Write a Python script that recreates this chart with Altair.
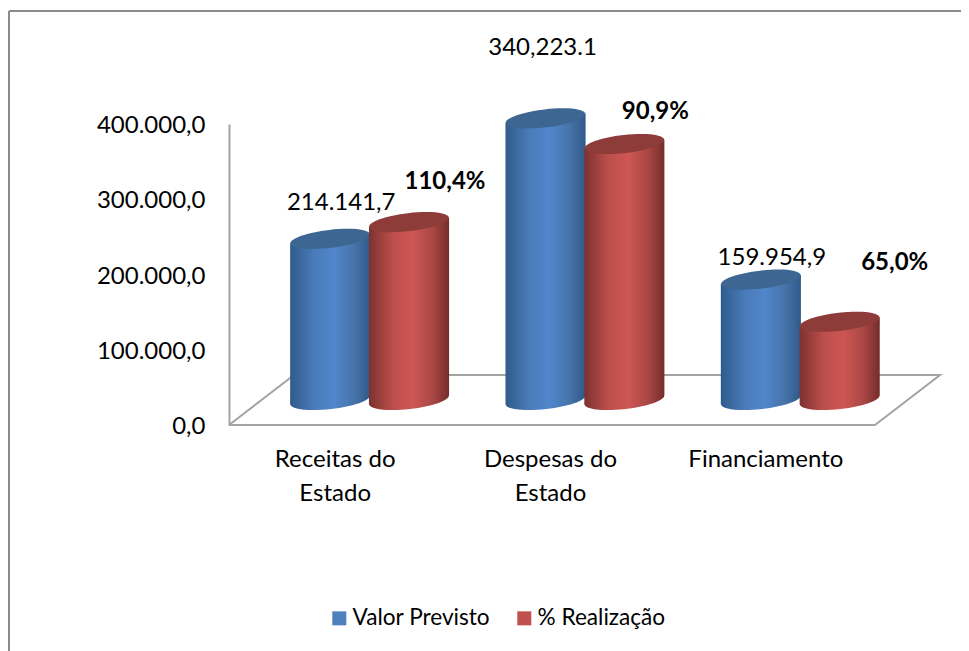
import altair as alt
import pandas as pd

CATEGORIES = ["Receitas do\nEstado", "Despesas do\nEstado", "Financiamento"]
SERIES = ["Valor Previsto", "% Realização"]
VALOR_PREVISTO = [214141.7, 374283.0, 159954.9]
REALIZACAO = [236412.0, 340223.1, 103971.0]
LABELS_PREVISTO = ["214.141,7", "340,223.1", "159.954,9"]
LABELS_REALIZACAO = ["110,4%", "90,9%", "65,0%"]
Y_TICKS = [0, 100000, 200000, 300000, 400000]
FONT = "Lato"
FS = 24

# pseudo-3D geometry, in axis units
BASE = 33222        # depth of the bars' base above the front of the floor
TILT = 6000         # rise of the ellipse across a cylinder
HALF = 0.186        # half width of a cylinder
SHIFT = {SERIES[0]: 0.47, SERIES[1]: 0.836}
FLOOR_X = [0, 3, 3.302, 0.302, 0]
FLOOR_Y = [0, 0, 66444, 66444, 0]

W, H = 646, 301
SZ = (2 * HALF * W / 3) ** 2


def grad(stops):
    return {"gradient": "linear", "x1": 0, "x2": 1, "y1": 0, "y2": 0,
            "stops": [{"offset": o, "color": c} for o, c in stops]}


GRADS = {
    SERIES[0]: grad([(0, "#2f5a8b"), (0.3, "#4a7cba"), (0.55, "#5086cb"),
                     (0.8, "#4674a9"), (1, "#30598a")]),
    SERIES[1]: grad([(0, "#7b3230"), (0.3, "#bd4f4c"), (0.55, "#cd5653"),
                     (0.8, "#a94745"), (1, "#742c2a")]),
}
TOPS = {SERIES[0]: "#3d6693", SERIES[1]: "#8e3c3a"}
ELLIPSE = ("M-0.9936,0.113 A1,0.225 -6.5 1,1 0.9936,-0.113 "
           "A1,0.225 -6.5 1,1 -0.9936,0.113 Z")

rows, centres = [], []
for s, vals in zip(SERIES, [VALOR_PREVISTO, REALIZACAO]):
    for i, v in enumerate(vals):
        c = i + SHIFT[s]
        top = BASE + v
        centres.append({"series": s, "cyl": f"{s}{i}", "x": c, "top": top, "base": BASE})
        rows.append({"series": s, "cyl": f"{s}{i}", "x": c - HALF, "top": top - TILT, "bot": BASE - TILT})
        rows.append({"series": s, "cyl": f"{s}{i}", "x": c + HALF, "top": top + TILT, "bot": BASE + TILT})
bodies = pd.DataFrame(rows)
centre = pd.DataFrame(centres)
floor = pd.DataFrame({"x": FLOOR_X, "y": FLOOR_Y, "o": range(len(FLOOR_X))})

x_expr = ("datum.value<1?" + repr(CATEGORIES[0].split("\n")) +
          ":datum.value<2?" + repr(CATEGORIES[1].split("\n")) +
          ":" + repr(CATEGORIES[2]))
y_expr = ("replace(replace(replace(format(datum.value,',.1f'),',','#'),'.',','),'#','.')")

x_scale = alt.Scale(domain=[0, 3], nice=False, zero=False)
y_scale = alt.Scale(domain=[0, 400000], nice=False)
x_axis = alt.Axis(values=[0.5, 1.5, 2.5], labelExpr=x_expr, domain=False, ticks=False,
                  grid=False, labelFont=FONT, labelFontSize=FS, labelColor="#000000",
                  labelLineHeight=34, labelPadding=22, labelAngle=0, labelOffset=-2,
                  labelOverlap=False, labelBound=False, labelFlush=False)
y_axis = alt.Axis(values=Y_TICKS, labelExpr=y_expr, ticks=False, grid=False,
                  domainColor="#a3a3a3", domainWidth=2, labelFont=FONT, labelOffset=1.5,
                  labelFontSize=FS, labelColor="#000000", labelPadding=24)
X = alt.X("x:Q", scale=x_scale, title=None, axis=x_axis)


def Y(field):
    return alt.Y(field, scale=y_scale, title=None, axis=y_axis)


floor_layer = alt.Chart(floor).mark_line(color="#a3a3a3", strokeWidth=2, clip=False).encode(
    x=X, y=Y("y:Q"), order="o:Q",
)

legend_layer = alt.Chart(centre).mark_square(filled=True, opacity=1, size=4).encode(
    x=X,
    y=Y("top:Q"),
    color=alt.Color("series:N", sort=SERIES,
                    scale=alt.Scale(domain=SERIES, range=["#4f81bd", "#c0504d"]),
                    legend=alt.Legend(title=None, orient="none", legendX=99, legendY=483,
                                      direction="horizontal", columns=2, symbolType="square",
                                      symbolSize=196, symbolOpacity=1, symbolStrokeWidth=0,
                                      labelFont=FONT, labelFontSize=22.6, labelColor="#000000",
                                      columnPadding=22, labelOffset=2, padding=0)),
)

layers = [floor_layer, legend_layer]
for s in SERIES:
    sub = bodies[bodies.series == s]
    csub = centre[centre.series == s]
    layers.append(alt.Chart(csub).mark_point(filled=True, fill=GRADS[s], shape=ELLIPSE, size=SZ,
                                             opacity=1, strokeWidth=0).encode(
        x=X, y=Y("base:Q")))
    layers.append(alt.Chart(sub).mark_area(fill=GRADS[s], opacity=1, orient="vertical").encode(
        x=X,
        y=alt.Y("top:Q", scale=y_scale, title=None, axis=y_axis, stack=None),
        y2="bot:Q",
        detail="cyl:N",
    ))
    layers.append(alt.Chart(csub).mark_point(filled=True, color=TOPS[s], shape=ELLIPSE, size=SZ,
                                             opacity=1, strokeWidth=0).encode(
        x=X, y=Y("top:Q")))

# data labels: (series index, category index, text, bold, dx, dy)
LABEL_SPECS = [
    (0, 0, LABELS_PREVISTO[0], False, 11, -36),
    (0, 1, LABELS_PREVISTO[1], False, -3, -70),
    (0, 2, LABELS_PREVISTO[2], False, 11, -22),
    (1, 0, LABELS_REALIZACAO[0], True, 36, -40),
    (1, 1, LABELS_REALIZACAO[1], True, 31, -32),
    (1, 2, LABELS_REALIZACAO[2], True, 55, -59),
]
for si, ci, text, bold, dx, dy in LABEL_SPECS:
    s = SERIES[si]
    v = [VALOR_PREVISTO, REALIZACAO][si][ci]
    d = pd.DataFrame({"x": [ci + SHIFT[s]], "top": [BASE + v], "t": [text]})
    layers.append(alt.Chart(d).mark_text(font=FONT, fontSize=FS, color="#000000", dx=dx, dy=dy,
                                         fontWeight="bold" if bold else "normal",
                                         baseline="middle", align="center").encode(
        x=X, y=Y("top:Q"), text="t:N"))

# chart frame
one = pd.DataFrame({"a": [0]})
layers.append(alt.Chart(one).mark_rule(color="#8c8c8c", strokeWidth=2).encode(
    x=alt.value(-220), y=alt.value(-113), y2=alt.value(530)))
layers.append(alt.Chart(one).mark_rule(color="#8c8c8c", strokeWidth=2).encode(
    x=alt.value(-220), x2=alt.value(800), y=alt.value(-113)))

chart = alt.layer(*layers).properties(
    width=W, height=H,
    autosize=alt.AutoSizeParams(type="none"),
    padding={"left": 221, "top": 116, "right": 86, "bottom": 226},
    background="#ffffff",
).configure_view(stroke=None)

chart.save("out.html", embed_options={"renderer": "svg", "actions": False})
